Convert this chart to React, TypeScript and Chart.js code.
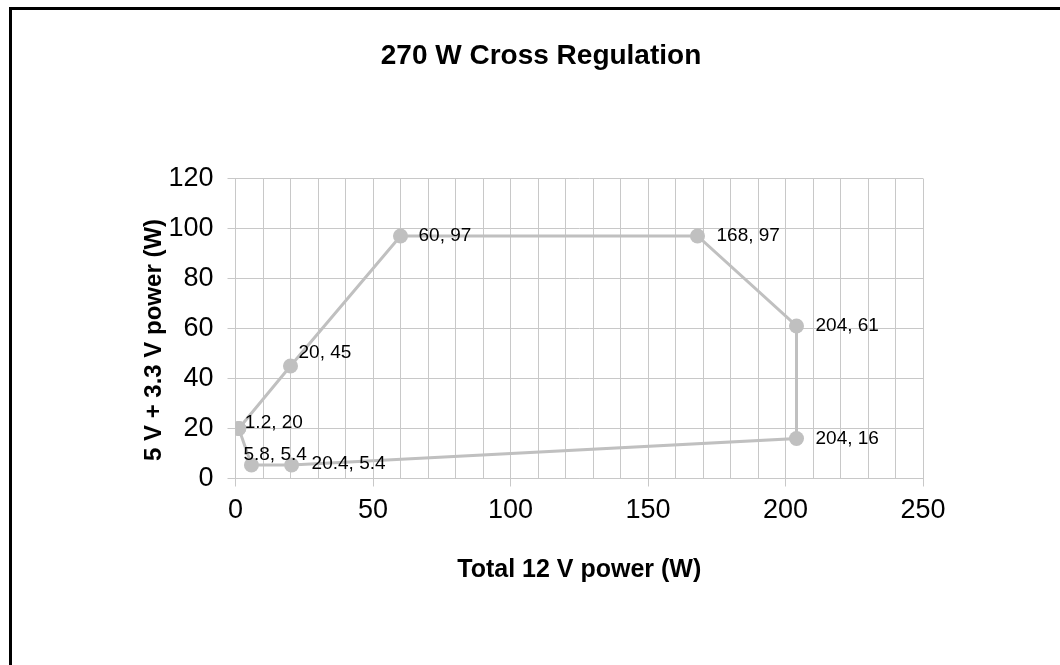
import React, { useEffect, useRef } from 'react';
import { Chart, registerables } from 'chart.js';

Chart.register(...registerables);

const CHART_TITLE = '270 W Cross Regulation';
const X_TITLE = 'Total 12 V power (W)';
const Y_TITLE = '5 V + 3.3 V power (W)';

// Operating envelope corners (12 V power, 5 V + 3.3 V power), in drawing order
const pointX = [1.2, 20, 60, 168, 204, 204, 20.4, 5.8];
const pointY = [20, 45, 97, 97, 61, 16, 5.4, 5.4];
const pointLabels = pointX.map((x, i) => `${x}, ${pointY[i]}`);

const xMin = 0;
const xMax = 250;
const xMinorStep = 10;
const xMajorStep = 50;
const yMin = 0;
const yMax = 120;
const yStep = 20;

// label placement relative to its point (pixels)
const labelOffsets: [number, number][] = [
  [6, -6],
  [8, -13],
  [18, 0],
  [19, 0],
  [19, 0],
  [19, 0],
  [20, -1],
  [-8, -10],
];

const FONT = "'Liberation Sans', Arial, sans-serif";
const GRID = '#c8c8c8';
const SERIES = '#c0c0c0';

const pointLabelPlugin = {
  id: 'pointLabels',
  afterDatasetsDraw(chart: any) {
    const meta = chart.getDatasetMeta(0);
    const ctx = chart.ctx;
    ctx.save();
    ctx.font = `19px ${FONT}`;
    ctx.fillStyle = '#000';
    ctx.textAlign = 'left';
    ctx.textBaseline = 'middle';
    for (let i = 0; i < pointLabels.length; i++) {
      const el = meta.data[i];
      if (!el) continue;
      const [dx, dy] = labelOffsets[i];
      ctx.fillText(pointLabels[i], el.x + dx, el.y + dy);
    }
    ctx.restore();
  },
};

const yTitlePlugin = {
  id: 'yTitle',
  afterDraw(chart: any) {
    const { ctx, chartArea } = chart;
    ctx.save();
    ctx.font = `bold 24px ${FONT}`;
    ctx.fillStyle = '#000';
    ctx.textAlign = 'center';
    ctx.textBaseline = 'middle';
    ctx.translate(chartArea.left - 81, (chartArea.top + chartArea.bottom) / 2 + 11.5);
    ctx.rotate(-Math.PI / 2);
    ctx.fillText(Y_TITLE, 0, 0);
    ctx.restore();
  },
};

export default function App() {
  const canvasRef = useRef<HTMLCanvasElement | null>(null);

  useEffect(() => {
    if (!canvasRef.current) return;
    const data = pointX.map((x, i) => ({ x, y: pointY[i] }));
    data.push({ x: pointX[0], y: pointY[0] });

    const chart = new Chart(canvasRef.current, {
      type: 'scatter',
      data: {
        datasets: [
          {
            data,
            showLine: true,
            borderColor: SERIES,
            borderWidth: 3,
            backgroundColor: SERIES,
            pointBackgroundColor: SERIES,
            pointBorderColor: SERIES,
            pointBorderWidth: 0,
            pointRadius: 7.5,
            pointHoverRadius: 7.5,
            tension: 0,
          },
        ],
      },
      options: {
        responsive: false,
        animation: false,
        events: [],
        layout: { padding: { left: 159, right: 137, top: 0, bottom: 79.6 } },
        plugins: {
          legend: { display: false },
          tooltip: { enabled: false },
          title: {
            display: true,
            text: CHART_TITLE,
            color: '#000',
            font: { family: FONT, size: 28, weight: 'bold' },
            padding: { top: 39.2, bottom: 105.7 },
          },
        },
        scales: {
          x: {
            type: 'linear',
            min: xMin,
            max: xMax,
            afterFit: (scale: any) => {
              scale.height = 106.9;
            },
            ticks: {
              stepSize: xMinorStep,
              autoSkip: false,
              maxRotation: 0,
              color: '#000',
              padding: 8,
              font: { family: FONT, size: 27 },
              callback: (v: any) => (Number(v) % xMajorStep === 0 ? String(v) : ''),
            },
            grid: {
              color: GRID,
              lineWidth: 1,
              tickLength: 8,
              tickColor: (c: any) =>
                c.tick && c.tick.value % xMajorStep === 0 ? GRID : 'rgba(0,0,0,0)',
            },
            border: { color: GRID, width: 1 },
            title: {
              display: true,
              text: X_TITLE,
              color: '#000',
              font: { family: FONT, size: 25, weight: 'bold' },
              padding: { top: 0, bottom: 0 },
            },
          },
          y: {
            type: 'linear',
            min: yMin,
            max: yMax,
            afterFit: (scale: any) => {
              scale.width = 76.5;
            },
            ticks: {
              stepSize: yStep,
              color: '#000',
              padding: 14,
              font: { family: FONT, size: 27 },
            },
            grid: {
              color: GRID,
              lineWidth: 1,
              tickLength: 8,
              tickColor: GRID,
            },
            border: { color: GRID, width: 1 },
            title: { display: false },
          },
        },
      },
      plugins: [pointLabelPlugin, yTitlePlugin],
    });
    return () => chart.destroy();
  }, []);

  return (
    <div
      style={{
        position: 'fixed',
        left: 0,
        top: 0,
        width: 1060,
        height: 665,
        background: '#fff',
        overflow: 'hidden',
      }}
    >
      <canvas ref={canvasRef} width={1060} height={665} style={{ display: 'block' }} />
      <div
        style={{
          position: 'absolute',
          left: 9,
          top: 7,
          width: 1200,
          height: 800,
          borderTop: '3px solid #000',
          borderLeft: '3px solid #000',
          pointerEvents: 'none',
        }}
      />
    </div>
  );
}
